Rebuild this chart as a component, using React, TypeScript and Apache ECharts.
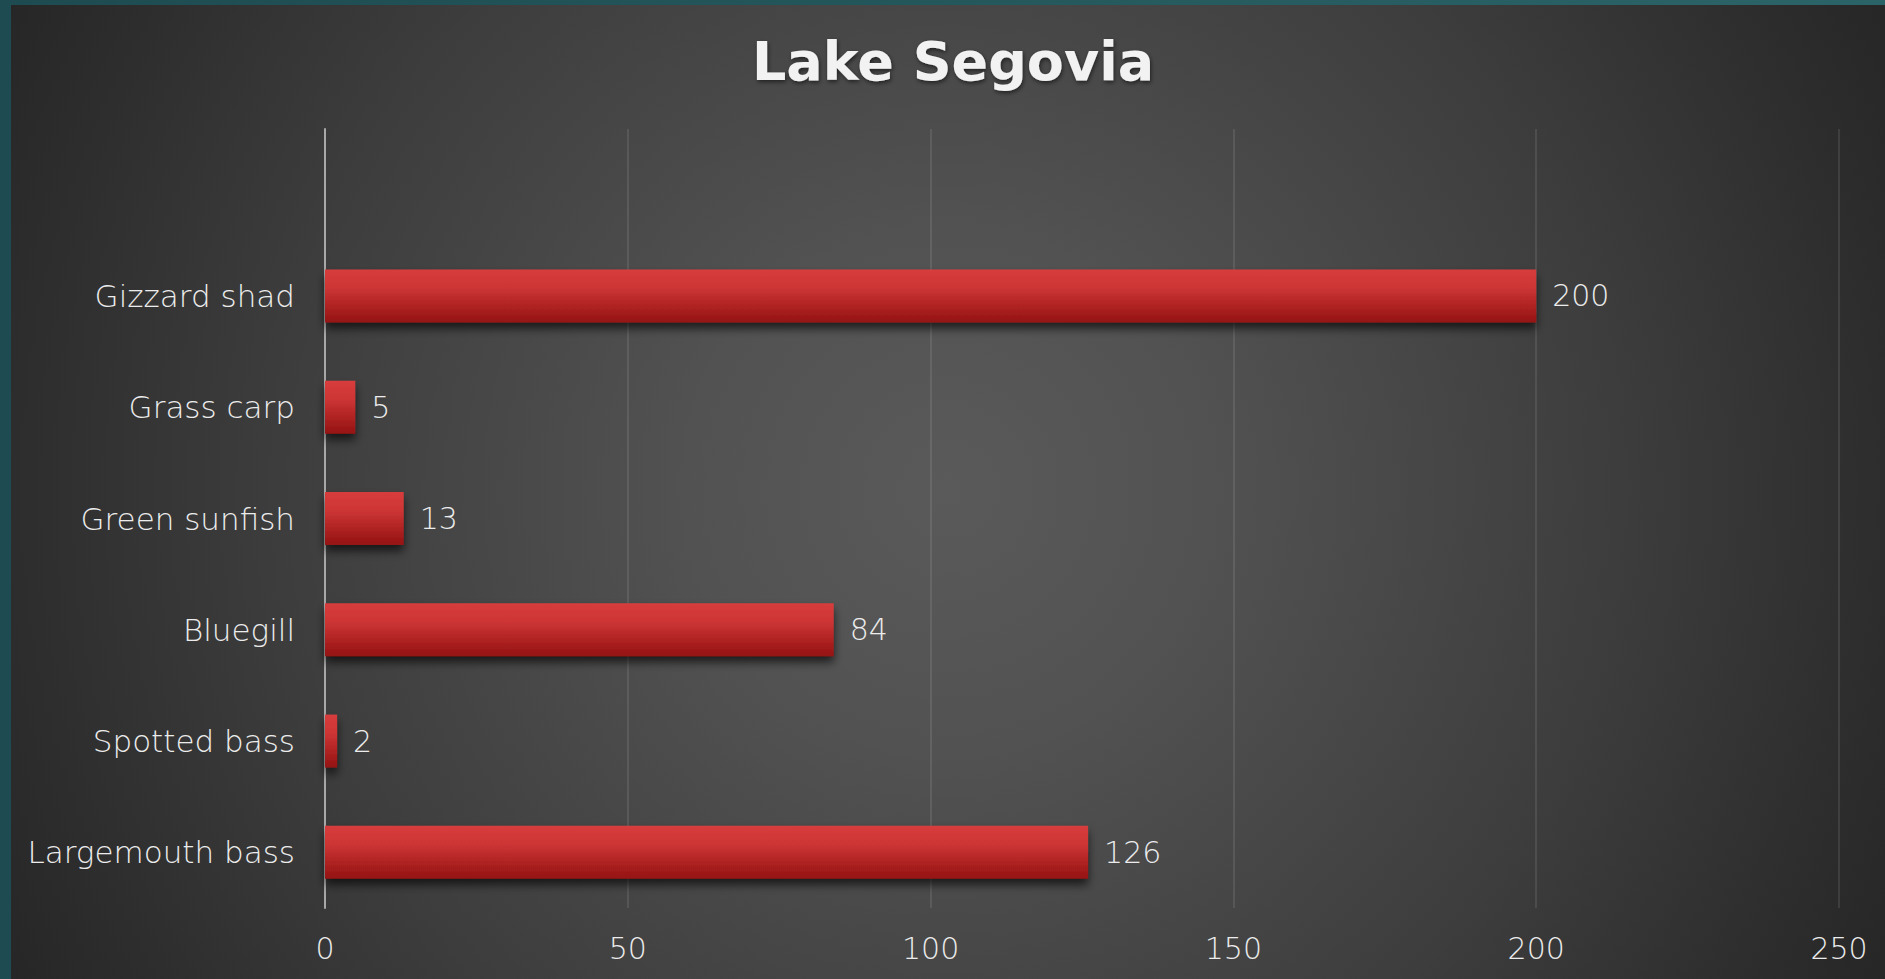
import React, { useEffect, useRef } from "react";
import * as echarts from "echarts";

const titleText = "Lake Segovia";
// bottom-to-top order (ECharts category axis starts at the bottom); top row is empty
const categories = ["Largemouth bass", "Spotted bass", "Bluegill", "Green sunfish", "Grass carp", "Gizzard shad", ""];
const values: (number | null)[] = [126, 2, 84, 13, 5, 200, null];
const xTicks = [0, 50, 100, 150, 200, 250];

const FONT = "'DejaVu Sans', sans-serif";

export default function App() {
  const ref = useRef<HTMLDivElement>(null);
  useEffect(() => {
    const chart = echarts.init(ref.current!, null, { renderer: "svg" });
    chart.setOption({
      animation: false,
      backgroundColor: new echarts.graphic.LinearGradient(0, 0, 1, 0, [
        { offset: 0, color: "#1d4b51" },
        { offset: 1, color: "#2b6468" },
      ]),
      graphic: [
        {
          type: "rect",
          z: -10,
          silent: true,
          shape: { x: 11, y: 5, width: 1874, height: 974 },
          style: {
            fill: new echarts.graphic.RadialGradient(948, 490, 1080, [
              { offset: 0, color: "#5a5a5a" },
              { offset: 0.24, color: "#525252" },
              { offset: 0.62, color: "#3d3d3d" },
              { offset: 0.85, color: "#2e2e2e" },
              { offset: 1, color: "#252525" },
            ], true),
          },
        },
      ],
      title: {
        text: titleText,
        left: 953,
        top: 34,
        textAlign: "center",
        padding: 0,
        textStyle: {
          fontFamily: FONT,
          fontSize: 54,
          fontWeight: "bold",
          color: "#f2f2f2",
          textShadowColor: "rgba(0,0,0,0.55)",
          textShadowBlur: 4,
          textShadowOffsetY: 2,
          textShadowOffsetX: 1,
        },
      },
      grid: { left: 325, right: 46, top: 129, bottom: 71, containLabel: false },
      xAxis: {
        type: "value",
        min: xTicks[0],
        max: xTicks[xTicks.length - 1],
        interval: 50,
        axisLine: { show: false },
        axisTick: { show: false },
        splitLine: { show: true, lineStyle: { color: "rgba(255,255,255,0.13)", width: 1.5 } },
        axisLabel: {
          margin: 25,
          fontFamily: FONT,
          fontWeight: 300,
          fontSize: 30,
          color: "#ececec",
        },
      },
      yAxis: {
        type: "category",
        data: categories,
        axisLine: { show: true, lineStyle: { color: "#a8a8a8", width: 2 } },
        axisTick: { show: false },
        splitLine: { show: false },
        axisLabel: {
          margin: 30,
          fontFamily: FONT,
          fontWeight: 300,
          fontSize: 31,
          color: "#ececec",
        },
      },
      series: [
        {
          type: "bar",
          data: values,
          barWidth: 53,
          itemStyle: {
            color: new echarts.graphic.LinearGradient(0, 0, 0, 1, [
              { offset: 0, color: "#d83c3c" },
              { offset: 0.35, color: "#cd3535" },
              { offset: 1, color: "#941212" },
            ]),
            shadowColor: "rgba(0,0,0,0.65)",
            shadowBlur: 10,
            shadowOffsetY: 6,
          },
          label: {
            show: true,
            position: "right",
            distance: 16,
            fontFamily: FONT,
            fontWeight: 300,
            fontSize: 30,
            color: "#ececec",
          },
        },
      ],
    });
    return () => chart.dispose();
  }, []);
  return (
    <div
      ref={ref}
      style={{ position: "fixed", left: 0, top: 0, width: 1885, height: 979 }}
    />
  );
}
